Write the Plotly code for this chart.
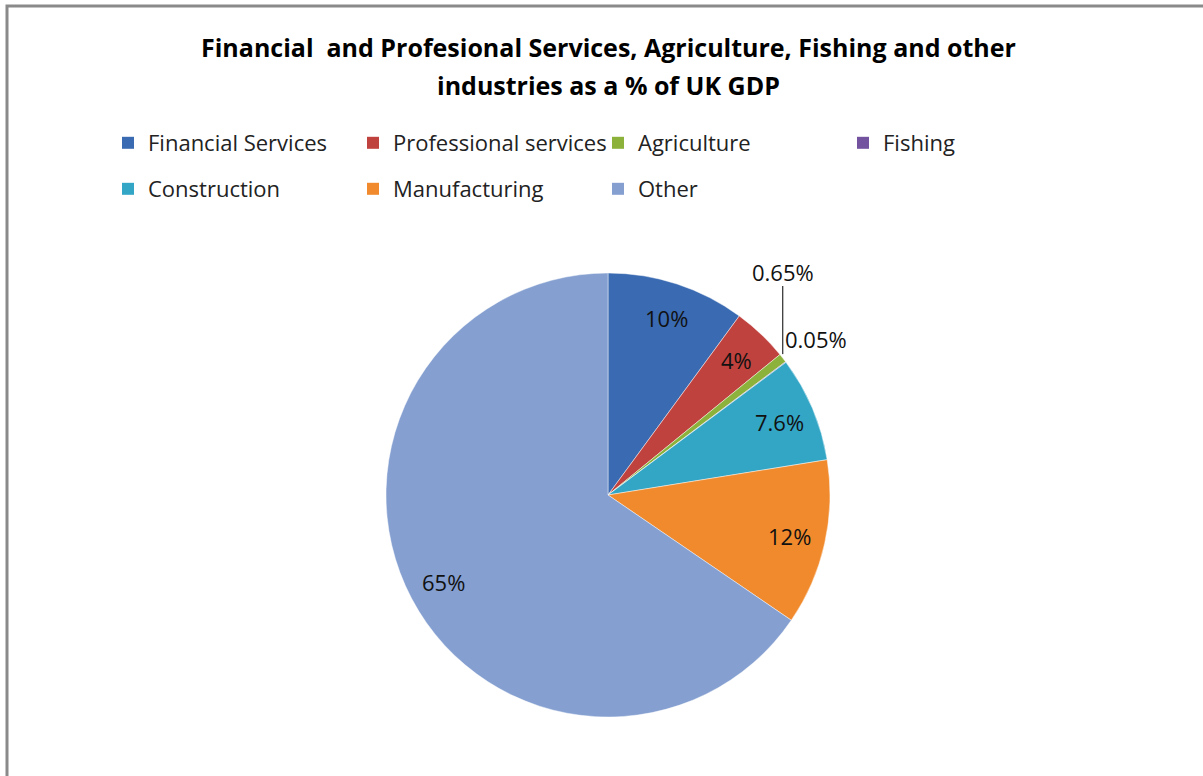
import math
import plotly.graph_objects as go

# Shares of UK GDP by industry (%)
categories = ["Financial Services", "Professional services", "Agriculture", "Fishing",
              "Construction", "Manufacturing", "Other"]
shares = [10, 4, 0.65, 0.05, 7.6, 12, 65]
share_labels = ["10%", "4%", "0.65%", "0.05%", "7.6%", "12%", "65%"]
colors = ["#3A6BB2", "#C0423E", "#8DB23C", "#7352A0", "#33A6C6", "#F18A2C", "#849FD0"]

title_lines = ["Financial  and Profesional Services, Agriculture, Fishing and other",
               "industries as a % of UK GDP"]

W, H = 1203, 776
CX, CY, R = 608, 495, 222          # pie centre and radius in pixels
FONT = "Open Sans"


def px(x):
    return x / W


def py(y):
    return 1 - y / H


total = sum(shares)
# mid angle (degrees clockwise from 12 o'clock) of every slice
mids = []
acc = 0.0
for v in shares:
    mids.append((acc + v / 2) / total * 360)
    acc += v


def polar(angle_deg, r):
    a = math.radians(angle_deg)
    return CX + r * math.sin(a), CY - r * math.cos(a)


fig = go.Figure(go.Pie(
    labels=categories,
    values=shares,
    sort=False,
    direction="clockwise",
    rotation=0,
    textinfo="none",
    hoverinfo="label+value",
    showlegend=False,
    marker=dict(colors=colors, line=dict(color="rgba(255,255,255,0.45)", width=1)),
    domain=dict(x=[px(CX - R), px(CX + R)], y=[py(CY + R), py(CY - R)]),
))

# legend keys, laid out in two rows of four columns
for i, (name, col) in enumerate(zip(categories, colors)):
    fig.add_trace(go.Scatter(
        x=[None], y=[None], mode="markers", name=name,
        marker=dict(symbol="square", size=12, color=col),
        legend="legend" if i < 4 else "legend2", hoverinfo="skip"))

annotations = []
for i, line in enumerate(title_lines):
    annotations.append(dict(
        text=f"<b>{line}</b>", x=px(608), y=py(47 + 38 * i), xref="paper", yref="paper",
        showarrow=False, xanchor="center", yanchor="middle",
        font=dict(family=FONT, size=25, color="#000000")))

shapes = [
    # chart frame (left and top edges)
    dict(type="path", path=f"M {px(7)} 0 L {px(7)} {py(6)} L 1 {py(6)}",
         xref="paper", yref="paper", line=dict(color="#8a8a8a", width=3)),
]

LABEL_FONT = dict(family=FONT, size=22, color="#111")
for i, (lab, ang) in enumerate(zip(share_labels, mids)):
    if i == 2:
        ex, ey = polar(ang, R)
        ty = CY - R - 1
        annotations.append(dict(
            text=lab, x=px(ex), y=py(ty), xref="paper", yref="paper", showarrow=False,
            xanchor="center", yanchor="middle", font=LABEL_FONT))
        shapes.append(dict(type="line", x0=px(ex), y0=py(ey - 4), x1=px(ex), y1=py(ty + 14),
                           xref="paper", yref="paper", line=dict(color="#000", width=1)))
    elif i == 3:
        lx, ly = polar(ang, R * 1.17)
        annotations.append(dict(
            text=lab, x=px(lx), y=py(ly), xref="paper", yref="paper", showarrow=False,
            xanchor="center", yanchor="middle", font=LABEL_FONT))
    else:
        lx, ly = polar(ang, R * 0.84)
        annotations.append(dict(
            text=lab, x=px(lx), y=py(ly), xref="paper", yref="paper", showarrow=False,
            xanchor="center", yanchor="middle", font=LABEL_FONT))

legend_style = dict(
    orientation="h", xanchor="left", yanchor="top",
    entrywidth=200, entrywidthmode="pixels", traceorder="normal",
    font=dict(family=FONT, size=22, color="#222"),
    itemclick=False, itemdoubleclick=False, bgcolor="rgba(0,0,0,0)",
)

fig.update_layout(
    width=W, height=H,
    margin=dict(l=0, r=0, t=0, b=0),
    paper_bgcolor="white",
    plot_bgcolor="white",
    xaxis=dict(visible=False),
    yaxis=dict(visible=False),
    legend=dict(x=px(108), y=py(122), **legend_style),
    legend2=dict(x=px(108), y=py(168), **legend_style),
    annotations=annotations,
    shapes=shapes,
)

fig.write_html("out.html")
